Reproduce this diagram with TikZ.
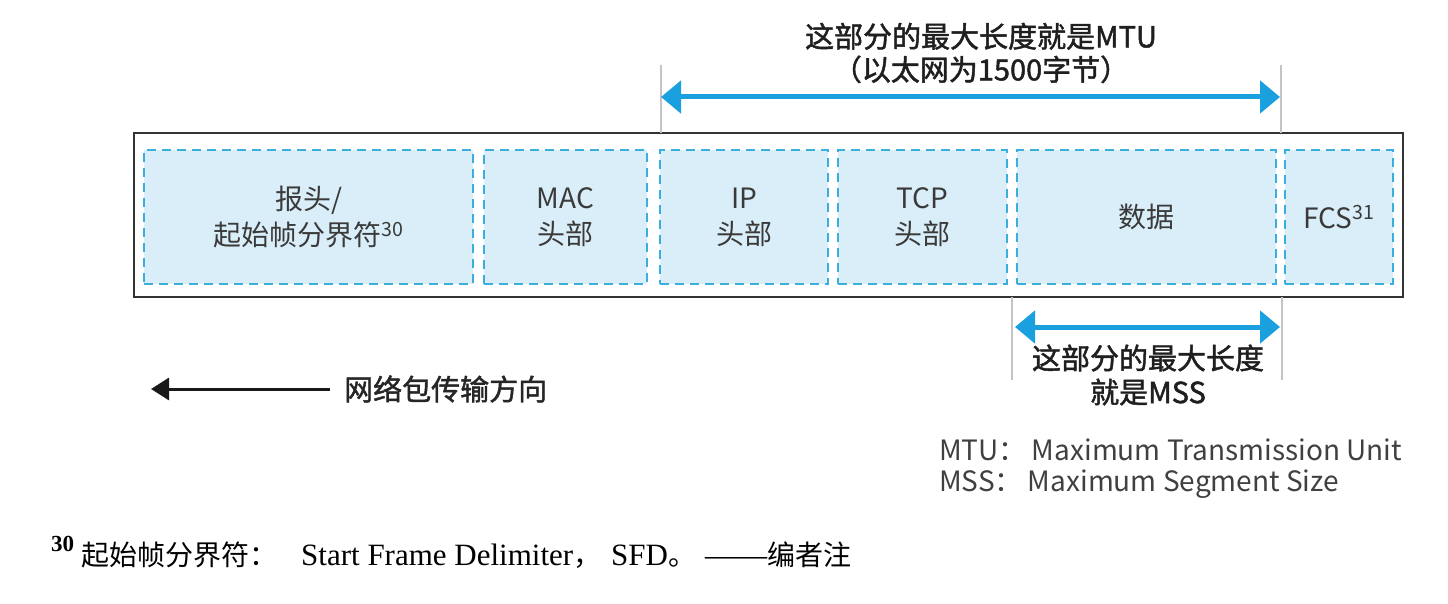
\documentclass[tikz,border=0pt]{standalone}
\usepackage{fontspec}
\setmainfont{Liberation Serif}
\newfontfamily\cjk{Noto Sans CJK SC}
\newfontfamily\cjkmed{Noto Sans CJK SC}[FakeBold=1.6]
\usetikzlibrary{arrows.meta}
\definecolor{boxfill}{HTML}{D9EEF8}
\definecolor{dashc}{HTML}{3AAEDD}
\definecolor{arrowc}{HTML}{1A9FDF}
\definecolor{guide}{HTML}{C4C4C4}
\definecolor{txt}{HTML}{3A3A3A}
\newcommand{\fncjk}{\cjk\fontsize{28}{32}\selectfont}
\tikzset{
  databox/.style={draw=dashc, fill=boxfill, line width=2.2pt, dash pattern=on 9pt off 6pt,
    minimum height=134pt, inner sep=0pt, align=center, text=txt,
    font=\cjk\fontsize{28}{36}\selectfont},
  guideline/.style={draw=guide, line width=2.5pt},
  bigarrow/.style={draw=arrowc, line width=5pt,
    {Triangle[length=20pt,width=32pt]}-{Triangle[length=20pt,width=32pt]}},
  lbl/.style={align=center, text=black!88, inner sep=0pt,
    font=\cjkmed\fontsize{29}{34}\selectfont},
  legend/.style={anchor=west, inner sep=0pt, text=black!75,
    font=\cjk\fontsize{28}{30}\selectfont},
}
\begin{document}
\begin{tikzpicture}[x=1pt,y=-1pt]
\useasboundingbox (0,0) rectangle (1448,604);
% outer frame
\node[draw=black!80, line width=2pt, minimum width=1269pt, minimum height=164pt, inner sep=0pt] (frame) at (768.5,215) {};
% boxes
\node[databox, minimum width=329pt] (b1) at (308.5,217) {报头/\\起始帧分界符\textsuperscript{30}};
\node[databox, minimum width=163pt] (b2) at (565.5,217) {MAC\\头部};
\node[databox, minimum width=168pt] (b3) at (744,217) {IP\\头部};
\node[databox, minimum width=169pt] (b4) at (922.5,217) {TCP\\头部};
\node[databox, minimum width=259pt] (b5) at (1146.5,217) {数据};
\node[databox, minimum width=108pt] (b6) at (1339,217) {FCS\textsuperscript{31}};
% MTU
\coordinate (g1t) at (661,65); \coordinate (g1b) at (661,133);
\coordinate (g2t) at (1281,65); \coordinate (g2b) at (1281,133);
\draw[guideline] (g1t) -- (g1b);
\draw[guideline] (g2t) -- (g2b);
\coordinate (mtuL) at (661,97); \coordinate (mtuR) at (1280,97);
\draw[bigarrow] (mtuL) -- (mtuR);
\node[lbl, font=\cjkmed\fontsize{29}{33}\selectfont] (mtulbl) at (981,53) {这部分的最大长度就是MTU\\（以太网为1500字节）};
% MSS
\coordinate (g3t) at (1012,297); \coordinate (g3b) at (1012,380);
\coordinate (g4t) at (1282,297); \coordinate (g4b) at (1282,380);
\draw[guideline] (g3t) -- (g3b);
\draw[guideline] (g4t) -- (g4b);
\coordinate (mssL) at (1015,327); \coordinate (mssR) at (1280,327);
\draw[bigarrow] (mssL) -- (mssR);
\node[lbl] (msslbl) at (1148,375) {这部分的最大长度\\就是MSS};
% direction
\coordinate (dirS) at (330,389); \coordinate (dirE) at (151,389);
\draw[line width=3pt, black!90, -{Triangle[length=18pt,width=22pt]}] (dirS) -- (dirE);
\node[anchor=west, inner sep=0pt, text=black!85, font=\cjkmed\fontsize{29}{30}\selectfont] (dirlbl) at (344,389) {网络包传输方向};
% legend
\node[legend] (leg1) at (939,450) {MTU：\hspace{5pt}Maximum Transmission Unit};
\node[legend] (leg2) at (939,484) {MSS：\hspace{5pt}Maximum Segment Size};
% footnote
\node[anchor=base west, inner sep=0pt, font=\bfseries\fontsize{23}{24}\selectfont] (fnnum) at (51,551) {30};
\node[anchor=base west, inner sep=0pt, font=\fontsize{31}{32}\selectfont] (fntext) at (81,565) {{\fncjk 起始帧分界符：}\hspace{24pt}Start Frame Delimiter{\fncjk ，}\hspace{10pt}SFD{\fncjk 。}\hspace{9pt}——{\fncjk 编者注}};
\end{tikzpicture}
\end{document}
